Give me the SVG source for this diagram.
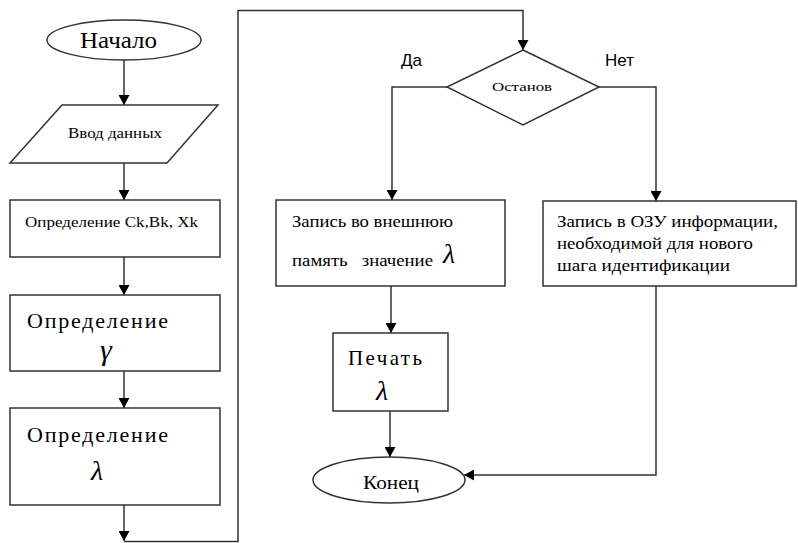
<svg xmlns="http://www.w3.org/2000/svg" width="798" height="543" viewBox="0 0 798 543">
<defs>
<marker id="arr" markerUnits="userSpaceOnUse" markerWidth="11" markerHeight="11" refX="10" refY="5.5" orient="auto">
<path d="M0,0 L10,5.5 L0,11 z" fill="#000"/>
</marker>
<style>
.s{fill:#fff;stroke:#333;stroke-width:1.5}
.c{fill:none;stroke:#333;stroke-width:1.5}
.a{marker-end:url(#arr)}
.t{font-family:"Liberation Serif","DejaVu Serif",serif;fill:#000}
.sa{font-family:"Liberation Sans",Arial,sans-serif;fill:#000}
.g{font-family:"Liberation Serif","DejaVu Serif",serif;font-style:italic;fill:#000}
</style>
</defs>
<rect width="798" height="543" fill="#fff"/>
<g id="connectors">
<path class="c a" d="M124,60 V105"/>
<path class="c a" d="M124,163 V200"/>
<path class="c a" d="M124,257 V295"/>
<path class="c a" d="M124,371 V408"/>
<path class="c a" d="M124,505 V541"/>
<path class="c a" d="M124,541.5 H238 V10.5 H523 V50"/>
<path class="c a" d="M447,87 H392 V200"/>
<path class="c a" d="M599,87 H656 V201"/>
<path class="c a" d="M391,286 V333"/>
<path class="c a" d="M390,411 V457"/>
<path class="c a" d="M656,286 V475 H464"/>
</g>
<g id="start">
<ellipse class="s" cx="124" cy="40" rx="77" ry="20"/>
<text class="t" x="80" y="48" font-size="23" textLength="77" lengthAdjust="spacingAndGlyphs">Начало</text>
</g>
<g id="input">
<polygon class="s" points="62,105 218,105 167,163 10,163"/>
<text class="t" x="68" y="138" font-size="14" textLength="94" lengthAdjust="spacingAndGlyphs">Ввод данных</text>
</g>
<g id="def-ck">
<rect class="s" x="10" y="200" width="210" height="57"/>
<text class="t" x="25" y="227" font-size="15" textLength="173" lengthAdjust="spacingAndGlyphs">Определение Ck,Bk, Xk</text>
</g>
<g id="def-gamma">
<rect class="s" x="10" y="295" width="210" height="76"/>
<text class="t" x="27" y="328" font-size="22" textLength="141" lengthAdjust="spacing">Определение</text>
<text class="g" x="100" y="360" font-size="30">γ</text>
</g>
<g id="def-lambda">
<rect class="s" x="10" y="408" width="210" height="97"/>
<text class="t" x="27" y="442" font-size="22" textLength="141" lengthAdjust="spacing">Определение</text>
<text class="g" x="91" y="480" font-size="28">λ</text>
</g>
<g id="stop">
<polygon class="s" points="523,50 599,87 523,125 447,87"/>
<text class="t" x="492" y="91" font-size="12" textLength="60" lengthAdjust="spacingAndGlyphs">Останов</text>
<text class="sa" x="401" y="66" font-size="17">Да</text>
<text class="sa" x="605" y="66" font-size="17">Нет</text>
</g>
<g id="write-ext">
<rect class="s" x="276" y="200" width="229" height="86"/>
<text class="t" x="292" y="227" font-size="16" textLength="161" lengthAdjust="spacingAndGlyphs">Запись во внешнюю</text>
<text class="t" x="292" y="266" font-size="16" textLength="141" lengthAdjust="spacingAndGlyphs" xml:space="preserve">память   значение</text>
<text class="g" x="443" y="263" font-size="28">λ</text>
</g>
<g id="write-ram">
<rect class="s" x="543" y="201" width="253" height="85"/>
<text class="t" x="557" y="227" font-size="16" textLength="221" lengthAdjust="spacingAndGlyphs">Запись в ОЗУ информации,</text>
<text class="t" x="557" y="249" font-size="16" textLength="196" lengthAdjust="spacingAndGlyphs">необходимой для нового</text>
<text class="t" x="557" y="271" font-size="16" textLength="173" lengthAdjust="spacingAndGlyphs">шага идентификации</text>
</g>
<g id="print">
<rect class="s" x="333" y="333" width="115" height="78"/>
<text class="t" x="348" y="365" font-size="21" textLength="74" lengthAdjust="spacing">Печать</text>
<text class="g" x="376" y="400" font-size="28">λ</text>
</g>
<g id="end">
<ellipse class="s" cx="389" cy="480" rx="76" ry="23"/>
<text class="t" x="363" y="489" font-size="18" textLength="56" lengthAdjust="spacingAndGlyphs">Конец</text>
</g>
</svg>
